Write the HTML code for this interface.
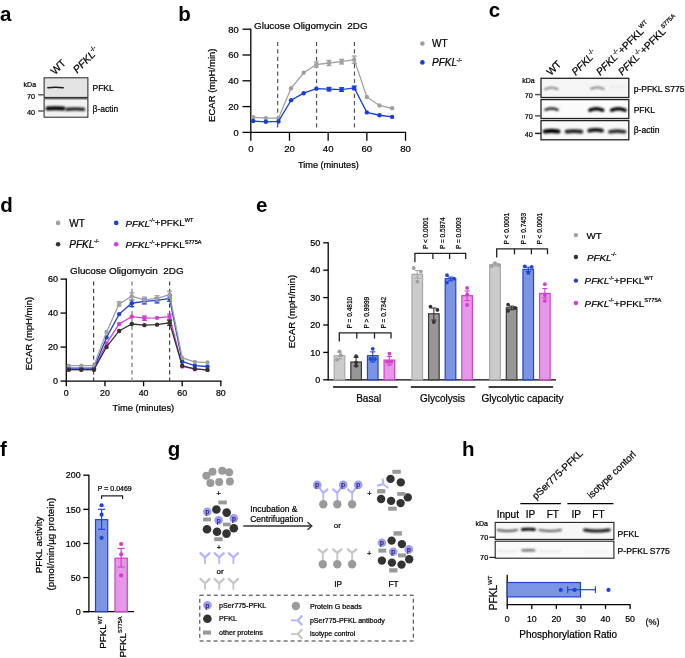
<!DOCTYPE html>
<html><head><meta charset="utf-8"><style>
html,body{margin:0;padding:0;background:#fff;}
svg{display:block;font-family:"Liberation Sans", sans-serif;will-change:transform;}
text{stroke:#000;stroke-width:0.22px;}
text[font-weight="bold"]{stroke:none;}
</style></head><body>
<svg width="685" height="658" viewBox="0 0 685 658">
<rect width="685" height="658" fill="#fff"/>
<text x="0" y="20.7" font-size="20.5" font-weight="bold">a</text>
<text x="178.3" y="21" font-size="20.5" font-weight="bold">b</text>
<text x="488.8" y="17.1" font-size="20.5" font-weight="bold">c</text>
<text x="0.3" y="212.1" font-size="20.5" font-weight="bold">d</text>
<text x="256" y="212.4" font-size="20.5" font-weight="bold">e</text>
<text x="0" y="456.3" font-size="20.5" font-weight="bold">f</text>
<text x="167.8" y="456" font-size="20.5" font-weight="bold">g</text>
<text x="462" y="456.1" font-size="20.5" font-weight="bold">h</text>
<text x="0" y="0" font-size="10.5" transform="translate(55.0,75.3) rotate(-45)">WT</text>
<text x="0" y="0" font-size="10.5" transform="translate(77.2,73.8) rotate(-45)"><tspan font-style="italic">PFKL</tspan><tspan font-size="6.3" dx="-0.63" dy="-4.7">-/-</tspan></text>
<defs><filter id="bl" x="-20%" y="-50%" width="140%" height="200%"><feGaussianBlur stdDeviation="0.7"/></filter><filter id="bl2" filterUnits="userSpaceOnUse" x="0" y="0" width="685" height="658"><feGaussianBlur stdDeviation="0.5"/></filter><filter id="bl3" filterUnits="userSpaceOnUse" x="0" y="0" width="685" height="658"><feGaussianBlur stdDeviation="0.85"/></filter></defs>
<rect x="44.10" y="77.80" width="43.80" height="19.60" fill="#e4e4e4" stroke="#222" stroke-width="1"/>
<rect x="44.10" y="98.80" width="43.80" height="18.40" fill="#f2f2f2" stroke="#222" stroke-width="1"/>
<path d="M47.8,87.7 Q55.5,87.04 63.2,87.7" fill="none" stroke="#1a1a1a" stroke-width="1.5" stroke-linecap="round" filter="url(#bl2)"/>
<path d="M47.6,108.6 Q55.5,107.94 63.4,108.6" fill="none" stroke="#000" stroke-width="4.0" stroke-linecap="round" filter="url(#bl3)"/>
<path d="M66.8,109.3 Q75.19999999999999,108.64 83.6,109.3" fill="none" stroke="#1a1a1a" stroke-width="3.2" stroke-linecap="round" filter="url(#bl3)"/>
<text x="23.6" y="87.3" font-size="7">kDa</text>
<text x="27.0" y="98.9" font-size="7.3">70</text>
<line x1="38.20" y1="94.80" x2="44.10" y2="94.80" stroke="#666" stroke-width="1.6"/>
<text x="27.0" y="114.6" font-size="7.3">40</text>
<line x1="38.20" y1="111.00" x2="44.10" y2="111.00" stroke="#666" stroke-width="1.6"/>
<text x="92.5" y="91.0" font-size="8.5">PFKL</text>
<text x="92.5" y="111.9" font-size="8.5">β-actin</text>
<line x1="250.80" y1="28.70" x2="250.80" y2="132.90" stroke="#000" stroke-width="1.3"/>
<line x1="250.20" y1="132.40" x2="406.12" y2="132.40" stroke="#000" stroke-width="1.3"/>
<line x1="242.50" y1="132.40" x2="250.80" y2="132.40" stroke="#000" stroke-width="1.3"/>
<text x="238.8" y="135.70000000000002" font-size="9.4" text-anchor="end">0</text>
<line x1="242.50" y1="106.60" x2="250.80" y2="106.60" stroke="#000" stroke-width="1.3"/>
<text x="238.8" y="109.9" font-size="9.4" text-anchor="end">20</text>
<line x1="242.50" y1="80.80" x2="250.80" y2="80.80" stroke="#000" stroke-width="1.3"/>
<text x="238.8" y="84.10000000000001" font-size="9.4" text-anchor="end">40</text>
<line x1="242.50" y1="55.00" x2="250.80" y2="55.00" stroke="#000" stroke-width="1.3"/>
<text x="238.8" y="58.3" font-size="9.4" text-anchor="end">60</text>
<line x1="242.50" y1="29.20" x2="250.80" y2="29.20" stroke="#000" stroke-width="1.3"/>
<text x="238.8" y="32.5" font-size="9.4" text-anchor="end">80</text>
<line x1="250.80" y1="132.40" x2="250.80" y2="140.70" stroke="#000" stroke-width="1.3"/>
<text x="250.8" y="152" font-size="9.6" text-anchor="middle">0</text>
<line x1="289.48" y1="132.40" x2="289.48" y2="140.70" stroke="#000" stroke-width="1.3"/>
<text x="289.48" y="152" font-size="9.6" text-anchor="middle">20</text>
<line x1="328.16" y1="132.40" x2="328.16" y2="140.70" stroke="#000" stroke-width="1.3"/>
<text x="328.16" y="152" font-size="9.6" text-anchor="middle">40</text>
<line x1="366.84" y1="132.40" x2="366.84" y2="140.70" stroke="#000" stroke-width="1.3"/>
<text x="366.84000000000003" y="152" font-size="9.6" text-anchor="middle">60</text>
<line x1="405.52" y1="132.40" x2="405.52" y2="140.70" stroke="#000" stroke-width="1.3"/>
<text x="405.52" y="152" font-size="9.6" text-anchor="middle">80</text>
<text x="328.4" y="167.5" font-size="9.2" text-anchor="middle">Time (minutes)</text>
<text x="0" y="0" font-size="9.5" text-anchor="middle" transform="translate(214.6,85.2) rotate(-90)">ECAR (mpH/min)</text>
<line x1="277.68" y1="41.90" x2="277.68" y2="129.80" stroke="#555" stroke-width="1.2" stroke-dasharray="4.2,3.2"/>
<line x1="316.56" y1="41.90" x2="316.56" y2="129.80" stroke="#555" stroke-width="1.2" stroke-dasharray="4.2,3.2"/>
<line x1="354.46" y1="41.90" x2="354.46" y2="129.80" stroke="#555" stroke-width="1.2" stroke-dasharray="4.2,3.2"/>
<text x="254" y="28.8" font-size="9.9" xml:space="preserve">Glucose Oligomycin  2DG</text>
<polyline points="253.20,117.31 265.83,118.21 278.46,118.21 291.09,88.28 303.71,72.80 316.34,64.55 328.97,63.00 341.60,61.71 354.23,59.64 366.86,96.93 379.49,105.44 392.12,108.28" fill="none" stroke="#a0a0a0" stroke-width="1.3"/>
<circle cx="253.20" cy="117.31" r="2.2" fill="#a0a0a0"/>
<circle cx="265.83" cy="118.21" r="2.2" fill="#a0a0a0"/>
<circle cx="278.46" cy="118.21" r="2.2" fill="#a0a0a0"/>
<circle cx="291.09" cy="88.28" r="2.2" fill="#a0a0a0"/>
<circle cx="303.71" cy="72.80" r="2.2" fill="#a0a0a0"/>
<line x1="316.34" y1="61.97" x2="316.34" y2="67.13" stroke="#a0a0a0" stroke-width="1.3"/>
<line x1="313.84" y1="61.97" x2="318.84" y2="61.97" stroke="#a0a0a0" stroke-width="1.3"/>
<line x1="313.84" y1="67.13" x2="318.84" y2="67.13" stroke="#a0a0a0" stroke-width="1.3"/>
<circle cx="316.34" cy="64.55" r="2.2" fill="#a0a0a0"/>
<line x1="328.97" y1="60.42" x2="328.97" y2="65.58" stroke="#a0a0a0" stroke-width="1.3"/>
<line x1="326.47" y1="60.42" x2="331.47" y2="60.42" stroke="#a0a0a0" stroke-width="1.3"/>
<line x1="326.47" y1="65.58" x2="331.47" y2="65.58" stroke="#a0a0a0" stroke-width="1.3"/>
<circle cx="328.97" cy="63.00" r="2.2" fill="#a0a0a0"/>
<line x1="341.60" y1="59.39" x2="341.60" y2="64.03" stroke="#a0a0a0" stroke-width="1.3"/>
<line x1="339.10" y1="59.39" x2="344.10" y2="59.39" stroke="#a0a0a0" stroke-width="1.3"/>
<line x1="339.10" y1="64.03" x2="344.10" y2="64.03" stroke="#a0a0a0" stroke-width="1.3"/>
<circle cx="341.60" cy="61.71" r="2.2" fill="#a0a0a0"/>
<line x1="354.23" y1="56.03" x2="354.23" y2="63.26" stroke="#a0a0a0" stroke-width="1.3"/>
<line x1="351.73" y1="56.03" x2="356.73" y2="56.03" stroke="#a0a0a0" stroke-width="1.3"/>
<line x1="351.73" y1="63.26" x2="356.73" y2="63.26" stroke="#a0a0a0" stroke-width="1.3"/>
<circle cx="354.23" cy="59.64" r="2.2" fill="#a0a0a0"/>
<circle cx="366.86" cy="96.93" r="2.2" fill="#a0a0a0"/>
<circle cx="379.49" cy="105.44" r="2.2" fill="#a0a0a0"/>
<circle cx="392.12" cy="108.28" r="2.2" fill="#a0a0a0"/>
<polyline points="253.20,121.05 265.83,121.82 278.46,121.44 291.09,100.15 303.71,93.18 316.34,88.67 328.97,89.19 341.60,89.57 354.23,87.90 366.86,112.41 379.49,115.24 392.12,116.92" fill="none" stroke="#1a3fd6" stroke-width="1.3"/>
<circle cx="253.20" cy="121.05" r="2.2" fill="#1a3fd6"/>
<circle cx="265.83" cy="121.82" r="2.2" fill="#1a3fd6"/>
<circle cx="278.46" cy="121.44" r="2.2" fill="#1a3fd6"/>
<circle cx="291.09" cy="100.15" r="2.2" fill="#1a3fd6"/>
<circle cx="303.71" cy="93.18" r="2.2" fill="#1a3fd6"/>
<circle cx="316.34" cy="88.67" r="2.2" fill="#1a3fd6"/>
<line x1="328.97" y1="87.51" x2="328.97" y2="90.86" stroke="#1a3fd6" stroke-width="1.3"/>
<line x1="326.47" y1="87.51" x2="331.47" y2="87.51" stroke="#1a3fd6" stroke-width="1.3"/>
<line x1="326.47" y1="90.86" x2="331.47" y2="90.86" stroke="#1a3fd6" stroke-width="1.3"/>
<circle cx="328.97" cy="89.19" r="2.2" fill="#1a3fd6"/>
<line x1="341.60" y1="87.77" x2="341.60" y2="91.38" stroke="#1a3fd6" stroke-width="1.3"/>
<line x1="339.10" y1="87.77" x2="344.10" y2="87.77" stroke="#1a3fd6" stroke-width="1.3"/>
<line x1="339.10" y1="91.38" x2="344.10" y2="91.38" stroke="#1a3fd6" stroke-width="1.3"/>
<circle cx="341.60" cy="89.57" r="2.2" fill="#1a3fd6"/>
<line x1="354.23" y1="86.09" x2="354.23" y2="89.70" stroke="#1a3fd6" stroke-width="1.3"/>
<line x1="351.73" y1="86.09" x2="356.73" y2="86.09" stroke="#1a3fd6" stroke-width="1.3"/>
<line x1="351.73" y1="89.70" x2="356.73" y2="89.70" stroke="#1a3fd6" stroke-width="1.3"/>
<circle cx="354.23" cy="87.90" r="2.2" fill="#1a3fd6"/>
<circle cx="366.86" cy="112.41" r="2.2" fill="#1a3fd6"/>
<circle cx="379.49" cy="115.24" r="2.2" fill="#1a3fd6"/>
<circle cx="392.12" cy="116.92" r="2.2" fill="#1a3fd6"/>
<circle cx="422.40" cy="43.60" r="2.3" fill="#a0a0a0"/>
<text x="432" y="47.2" font-size="10">WT</text>
<circle cx="422.40" cy="62.40" r="2.3" fill="#1a3fd6"/>
<text x="432" y="66" font-size="10"><tspan font-style="italic">PFKL</tspan><tspan font-size="6.0" dx="-0.60" dy="-4.5">-/-</tspan></text>
<text x="0" y="0" font-size="10.2" transform="translate(550.8,76.0) rotate(-45)">WT</text>
<text x="0" y="0" font-size="10.2" transform="translate(575.8,76.0) rotate(-45)"><tspan font-style="italic">PFKL</tspan><tspan font-size="6.1" dx="-0.61" dy="-4.6">-/-</tspan></text>
<text x="0" y="0" font-size="10.2" transform="translate(600.3,76.0) rotate(-45)"><tspan font-style="italic">PFKL</tspan><tspan font-size="6.1" dx="-0.61" dy="-4.6">-/-</tspan><tspan dy="4.59">+PFKL</tspan><tspan font-size="5.92" dy="-4.59">WT</tspan></text>
<text x="0" y="0" font-size="10.2" transform="translate(622.3,76.0) rotate(-45)"><tspan font-style="italic">PFKL</tspan><tspan font-size="6.1" dx="-0.61" dy="-4.6">-/-</tspan><tspan dy="4.59">+PFKL</tspan><tspan font-size="5.92" dy="-4.59">S775A</tspan></text>
<rect x="541.00" y="78.30" width="87.80" height="19.20" fill="#f5f5f5" stroke="#222" stroke-width="1.3"/>
<rect x="541.00" y="99.60" width="87.80" height="18.90" fill="#fbfbfb" stroke="#222" stroke-width="1.3"/>
<rect x="541.00" y="120.60" width="87.80" height="19.20" fill="#f8f8f8" stroke="#222" stroke-width="1.3"/>
<path d="M545.2,89.1 Q551.4000000000001,86.24 557.6,89.1" fill="none" stroke="#707070" stroke-width="1.8" stroke-linecap="round" filter="url(#bl3)"/>
<path d="M591.0,88.89999999999999 Q597.3,86.03999999999999 603.6,88.89999999999999" fill="none" stroke="#707070" stroke-width="1.8" stroke-linecap="round" filter="url(#bl3)"/>
<path d="M611.5,87.0 Q618.0,85.9 624.5,87.0" fill="none" stroke="#e8e8e8" stroke-width="1.8" stroke-linecap="round" filter="url(#bl3)"/>
<path d="M545.4,109.8 Q551.5,107.16 557.6,109.8" fill="none" stroke="#222" stroke-width="2.4" stroke-linecap="round" filter="url(#bl3)"/>
<path d="M590.0,110.2 Q596.3,107.34 602.6,110.2" fill="none" stroke="#000" stroke-width="3.6" stroke-linecap="round" filter="url(#bl3)"/>
<path d="M611.7,110.2 Q618.35,107.34 625.0,110.2" fill="none" stroke="#000" stroke-width="3.6" stroke-linecap="round" filter="url(#bl3)"/>
<path d="M544.8,131.5 Q551.5999999999999,130.4 558.4,131.5" fill="none" stroke="#000" stroke-width="4.2" stroke-linecap="round" filter="url(#bl3)"/>
<path d="M566.6,131.7 Q574.0,130.6 581.4,131.7" fill="none" stroke="#1a1a1a" stroke-width="3.8" stroke-linecap="round" filter="url(#bl3)"/>
<path d="M589.3,130.6 Q595.65,129.28 602.0,130.6" fill="none" stroke="#111" stroke-width="3.8" stroke-linecap="round" filter="url(#bl3)"/>
<path d="M609.9,131.7 Q617.25,130.6 624.6,131.7" fill="none" stroke="#2a2a2a" stroke-width="3.6" stroke-linecap="round" filter="url(#bl3)"/>
<text x="522.3" y="82.9" font-size="7">kDa</text>
<text x="524.8" y="98.3" font-size="7.3">70</text>
<line x1="535.00" y1="94.60" x2="541.20" y2="94.60" stroke="#555" stroke-width="1.5"/>
<text x="524.8" y="119.4" font-size="7.3">70</text>
<line x1="535.00" y1="115.90" x2="541.20" y2="115.90" stroke="#555" stroke-width="1.5"/>
<text x="524.8" y="137.3" font-size="7.3">40</text>
<line x1="535.00" y1="133.40" x2="541.20" y2="133.40" stroke="#222" stroke-width="1.5"/>
<text x="633.7" y="91.6" font-size="8.5">p-PFKL S775</text>
<text x="633.7" y="112.9" font-size="8.5">PFKL</text>
<text x="633.7" y="133.3" font-size="8.5">β-actin</text>
<line x1="66.30" y1="278.60" x2="66.30" y2="381.60" stroke="#000" stroke-width="1.3"/>
<line x1="65.70" y1="381.10" x2="221.46" y2="381.10" stroke="#000" stroke-width="1.3"/>
<line x1="60.50" y1="381.10" x2="66.30" y2="381.10" stroke="#000" stroke-width="1.3"/>
<text x="58.0" y="384.3" font-size="9" text-anchor="end">0</text>
<line x1="60.50" y1="347.10" x2="66.30" y2="347.10" stroke="#000" stroke-width="1.3"/>
<text x="58.0" y="350.3" font-size="9" text-anchor="end">20</text>
<line x1="60.50" y1="313.10" x2="66.30" y2="313.10" stroke="#000" stroke-width="1.3"/>
<text x="58.0" y="316.3" font-size="9" text-anchor="end">40</text>
<line x1="60.50" y1="279.10" x2="66.30" y2="279.10" stroke="#000" stroke-width="1.3"/>
<text x="58.0" y="282.3" font-size="9" text-anchor="end">60</text>
<line x1="66.30" y1="381.10" x2="66.30" y2="386.30" stroke="#000" stroke-width="1.3"/>
<text x="66.3" y="396.3" font-size="8.8" text-anchor="middle">0</text>
<line x1="104.94" y1="381.10" x2="104.94" y2="386.30" stroke="#000" stroke-width="1.3"/>
<text x="104.94" y="396.3" font-size="8.8" text-anchor="middle">20</text>
<line x1="143.58" y1="381.10" x2="143.58" y2="386.30" stroke="#000" stroke-width="1.3"/>
<text x="143.57999999999998" y="396.3" font-size="8.8" text-anchor="middle">40</text>
<line x1="182.22" y1="381.10" x2="182.22" y2="386.30" stroke="#000" stroke-width="1.3"/>
<text x="182.22" y="396.3" font-size="8.8" text-anchor="middle">60</text>
<line x1="220.86" y1="381.10" x2="220.86" y2="386.30" stroke="#000" stroke-width="1.3"/>
<text x="220.86" y="396.3" font-size="8.8" text-anchor="middle">80</text>
<text x="143.4" y="411" font-size="9.3" text-anchor="middle">Time (minutes)</text>
<text x="0" y="0" font-size="9.5" text-anchor="middle" transform="translate(32.0,333.6) rotate(-90)">ECAR (mpH/min)</text>
<line x1="93.60" y1="281.40" x2="93.60" y2="381.10" stroke="#444" stroke-width="1.2" stroke-dasharray="4.2,3.2"/>
<line x1="132.00" y1="281.40" x2="132.00" y2="381.10" stroke="#999" stroke-width="1.6" stroke-dasharray="4.2,3.2"/>
<line x1="169.60" y1="281.40" x2="169.60" y2="381.10" stroke="#444" stroke-width="1.2" stroke-dasharray="4.2,3.2"/>
<text x="70" y="274.3" font-size="9.9" xml:space="preserve">Glucose Oligomycin  2DG</text>
<polyline points="68.70,369.54 81.31,369.54 93.93,369.54 106.54,343.36 119.16,323.98 131.78,316.67 144.39,318.20 157.01,317.86 169.62,316.67 182.24,366.48 194.86,369.20 207.47,369.88" fill="none" stroke="#d23fd6" stroke-width="1.3"/>
<circle cx="68.70" cy="369.54" r="2.2" fill="#d23fd6"/>
<circle cx="81.31" cy="369.54" r="2.2" fill="#d23fd6"/>
<circle cx="93.93" cy="369.54" r="2.2" fill="#d23fd6"/>
<circle cx="106.54" cy="343.36" r="2.2" fill="#d23fd6"/>
<circle cx="119.16" cy="323.98" r="2.2" fill="#d23fd6"/>
<circle cx="131.78" cy="316.67" r="2.2" fill="#d23fd6"/>
<line x1="144.39" y1="315.99" x2="144.39" y2="320.41" stroke="#d23fd6" stroke-width="1.3"/>
<line x1="141.89" y1="315.99" x2="146.89" y2="315.99" stroke="#d23fd6" stroke-width="1.3"/>
<line x1="141.89" y1="320.41" x2="146.89" y2="320.41" stroke="#d23fd6" stroke-width="1.3"/>
<circle cx="144.39" cy="318.20" r="2.2" fill="#d23fd6"/>
<circle cx="157.01" cy="317.86" r="2.2" fill="#d23fd6"/>
<line x1="169.62" y1="314.12" x2="169.62" y2="319.22" stroke="#d23fd6" stroke-width="1.3"/>
<line x1="167.12" y1="314.12" x2="172.12" y2="314.12" stroke="#d23fd6" stroke-width="1.3"/>
<line x1="167.12" y1="319.22" x2="172.12" y2="319.22" stroke="#d23fd6" stroke-width="1.3"/>
<circle cx="169.62" cy="316.67" r="2.2" fill="#d23fd6"/>
<circle cx="182.24" cy="366.48" r="2.2" fill="#d23fd6"/>
<circle cx="194.86" cy="369.20" r="2.2" fill="#d23fd6"/>
<circle cx="207.47" cy="369.88" r="2.2" fill="#d23fd6"/>
<polyline points="68.70,368.18 81.31,368.18 93.93,368.18 106.54,337.41 119.16,314.12 131.78,303.24 144.39,301.37 157.01,300.35 169.62,298.48 182.24,361.55 194.86,365.63 207.47,366.48" fill="none" stroke="#1a3fd6" stroke-width="1.3"/>
<circle cx="68.70" cy="368.18" r="2.2" fill="#1a3fd6"/>
<circle cx="81.31" cy="368.18" r="2.2" fill="#1a3fd6"/>
<circle cx="93.93" cy="368.18" r="2.2" fill="#1a3fd6"/>
<circle cx="106.54" cy="337.41" r="2.2" fill="#1a3fd6"/>
<circle cx="119.16" cy="314.12" r="2.2" fill="#1a3fd6"/>
<line x1="131.78" y1="299.84" x2="131.78" y2="306.64" stroke="#1a3fd6" stroke-width="1.3"/>
<line x1="129.28" y1="299.84" x2="134.28" y2="299.84" stroke="#1a3fd6" stroke-width="1.3"/>
<line x1="129.28" y1="306.64" x2="134.28" y2="306.64" stroke="#1a3fd6" stroke-width="1.3"/>
<circle cx="131.78" cy="303.24" r="2.2" fill="#1a3fd6"/>
<line x1="144.39" y1="298.82" x2="144.39" y2="303.92" stroke="#1a3fd6" stroke-width="1.3"/>
<line x1="141.89" y1="298.82" x2="146.89" y2="298.82" stroke="#1a3fd6" stroke-width="1.3"/>
<line x1="141.89" y1="303.92" x2="146.89" y2="303.92" stroke="#1a3fd6" stroke-width="1.3"/>
<circle cx="144.39" cy="301.37" r="2.2" fill="#1a3fd6"/>
<line x1="157.01" y1="297.80" x2="157.01" y2="302.90" stroke="#1a3fd6" stroke-width="1.3"/>
<line x1="154.51" y1="297.80" x2="159.51" y2="297.80" stroke="#1a3fd6" stroke-width="1.3"/>
<line x1="154.51" y1="302.90" x2="159.51" y2="302.90" stroke="#1a3fd6" stroke-width="1.3"/>
<circle cx="157.01" cy="300.35" r="2.2" fill="#1a3fd6"/>
<line x1="169.62" y1="295.76" x2="169.62" y2="301.20" stroke="#1a3fd6" stroke-width="1.3"/>
<line x1="167.12" y1="295.76" x2="172.12" y2="295.76" stroke="#1a3fd6" stroke-width="1.3"/>
<line x1="167.12" y1="301.20" x2="172.12" y2="301.20" stroke="#1a3fd6" stroke-width="1.3"/>
<circle cx="169.62" cy="298.48" r="2.2" fill="#1a3fd6"/>
<circle cx="182.24" cy="361.55" r="2.2" fill="#1a3fd6"/>
<circle cx="194.86" cy="365.63" r="2.2" fill="#1a3fd6"/>
<circle cx="207.47" cy="366.48" r="2.2" fill="#1a3fd6"/>
<polyline points="68.70,365.63 81.31,365.63 93.93,365.63 106.54,331.97 119.16,303.92 131.78,296.27 144.39,299.84 157.01,298.48 169.62,294.57 182.24,357.98 194.86,361.89 207.47,362.57" fill="none" stroke="#a0a0a0" stroke-width="1.3"/>
<circle cx="68.70" cy="365.63" r="2.2" fill="#a0a0a0"/>
<circle cx="81.31" cy="365.63" r="2.2" fill="#a0a0a0"/>
<circle cx="93.93" cy="365.63" r="2.2" fill="#a0a0a0"/>
<circle cx="106.54" cy="331.97" r="2.2" fill="#a0a0a0"/>
<line x1="119.16" y1="301.71" x2="119.16" y2="306.13" stroke="#a0a0a0" stroke-width="1.3"/>
<line x1="116.66" y1="301.71" x2="121.66" y2="301.71" stroke="#a0a0a0" stroke-width="1.3"/>
<line x1="116.66" y1="306.13" x2="121.66" y2="306.13" stroke="#a0a0a0" stroke-width="1.3"/>
<circle cx="119.16" cy="303.92" r="2.2" fill="#a0a0a0"/>
<line x1="131.78" y1="292.87" x2="131.78" y2="299.67" stroke="#a0a0a0" stroke-width="1.3"/>
<line x1="129.28" y1="292.87" x2="134.28" y2="292.87" stroke="#a0a0a0" stroke-width="1.3"/>
<line x1="129.28" y1="299.67" x2="134.28" y2="299.67" stroke="#a0a0a0" stroke-width="1.3"/>
<circle cx="131.78" cy="296.27" r="2.2" fill="#a0a0a0"/>
<line x1="144.39" y1="297.12" x2="144.39" y2="302.56" stroke="#a0a0a0" stroke-width="1.3"/>
<line x1="141.89" y1="297.12" x2="146.89" y2="297.12" stroke="#a0a0a0" stroke-width="1.3"/>
<line x1="141.89" y1="302.56" x2="146.89" y2="302.56" stroke="#a0a0a0" stroke-width="1.3"/>
<circle cx="144.39" cy="299.84" r="2.2" fill="#a0a0a0"/>
<line x1="157.01" y1="295.76" x2="157.01" y2="301.20" stroke="#a0a0a0" stroke-width="1.3"/>
<line x1="154.51" y1="295.76" x2="159.51" y2="295.76" stroke="#a0a0a0" stroke-width="1.3"/>
<line x1="154.51" y1="301.20" x2="159.51" y2="301.20" stroke="#a0a0a0" stroke-width="1.3"/>
<circle cx="157.01" cy="298.48" r="2.2" fill="#a0a0a0"/>
<line x1="169.62" y1="291.17" x2="169.62" y2="297.97" stroke="#a0a0a0" stroke-width="1.3"/>
<line x1="167.12" y1="291.17" x2="172.12" y2="291.17" stroke="#a0a0a0" stroke-width="1.3"/>
<line x1="167.12" y1="297.97" x2="172.12" y2="297.97" stroke="#a0a0a0" stroke-width="1.3"/>
<circle cx="169.62" cy="294.57" r="2.2" fill="#a0a0a0"/>
<circle cx="182.24" cy="357.98" r="2.2" fill="#a0a0a0"/>
<circle cx="194.86" cy="361.89" r="2.2" fill="#a0a0a0"/>
<circle cx="207.47" cy="362.57" r="2.2" fill="#a0a0a0"/>
<polyline points="68.70,369.71 81.31,369.71 93.93,369.71 106.54,346.93 119.16,330.95 131.78,323.98 144.39,325.17 157.01,324.66 169.62,322.79 182.24,365.80 194.86,368.86 207.47,369.88" fill="none" stroke="#333333" stroke-width="1.3"/>
<circle cx="68.70" cy="369.71" r="2.2" fill="#333333"/>
<circle cx="81.31" cy="369.71" r="2.2" fill="#333333"/>
<circle cx="93.93" cy="369.71" r="2.2" fill="#333333"/>
<circle cx="106.54" cy="346.93" r="2.2" fill="#333333"/>
<circle cx="119.16" cy="330.95" r="2.2" fill="#333333"/>
<circle cx="131.78" cy="323.98" r="2.2" fill="#333333"/>
<circle cx="144.39" cy="325.17" r="2.2" fill="#333333"/>
<circle cx="157.01" cy="324.66" r="2.2" fill="#333333"/>
<line x1="169.62" y1="320.24" x2="169.62" y2="325.34" stroke="#333333" stroke-width="1.3"/>
<line x1="167.12" y1="320.24" x2="172.12" y2="320.24" stroke="#333333" stroke-width="1.3"/>
<line x1="167.12" y1="325.34" x2="172.12" y2="325.34" stroke="#333333" stroke-width="1.3"/>
<circle cx="169.62" cy="322.79" r="2.2" fill="#333333"/>
<circle cx="182.24" cy="365.80" r="2.2" fill="#333333"/>
<circle cx="194.86" cy="368.86" r="2.2" fill="#333333"/>
<circle cx="207.47" cy="369.88" r="2.2" fill="#333333"/>
<circle cx="58.10" cy="222.90" r="2.3" fill="#a0a0a0"/>
<text x="69.3" y="226.5" font-size="10">WT</text>
<circle cx="58.10" cy="244.30" r="2.3" fill="#333333"/>
<text x="69.3" y="247.9" font-size="10"><tspan font-style="italic">PFKL</tspan><tspan font-size="6.0" dx="-0.60" dy="-4.5">-/-</tspan></text>
<circle cx="116.20" cy="222.90" r="2.3" fill="#1a3fd6"/>
<text x="125.6" y="226.5" font-size="9.7"><tspan font-style="italic">PFKL</tspan><tspan font-size="5.8" dx="-0.58" dy="-4.4">-/-</tspan><tspan dy="4.37">+PFKL</tspan><tspan font-size="5.63" dy="-4.37">WT</tspan></text>
<circle cx="116.20" cy="244.30" r="2.3" fill="#d23fd6"/>
<text x="125.6" y="247.9" font-size="9.7"><tspan font-style="italic">PFKL</tspan><tspan font-size="5.8" dx="-0.58" dy="-4.4">-/-</tspan><tspan dy="4.37">+PFKL</tspan><tspan font-size="5.63" dy="-4.37">S775A</tspan></text>
<line x1="328.20" y1="242.30" x2="328.20" y2="380.30" stroke="#000" stroke-width="1.3"/>
<line x1="327.60" y1="379.80" x2="556.00" y2="379.80" stroke="#000" stroke-width="1.3"/>
<line x1="323.20" y1="379.80" x2="328.20" y2="379.80" stroke="#000" stroke-width="1.3"/>
<text x="320.2" y="383.0" font-size="9" text-anchor="end">0</text>
<line x1="323.20" y1="352.40" x2="328.20" y2="352.40" stroke="#000" stroke-width="1.3"/>
<text x="320.2" y="355.6" font-size="9" text-anchor="end">10</text>
<line x1="323.20" y1="325.00" x2="328.20" y2="325.00" stroke="#000" stroke-width="1.3"/>
<text x="320.2" y="328.2" font-size="9" text-anchor="end">20</text>
<line x1="323.20" y1="297.60" x2="328.20" y2="297.60" stroke="#000" stroke-width="1.3"/>
<text x="320.2" y="300.8" font-size="9" text-anchor="end">30</text>
<line x1="323.20" y1="270.20" x2="328.20" y2="270.20" stroke="#000" stroke-width="1.3"/>
<text x="320.2" y="273.4" font-size="9" text-anchor="end">40</text>
<line x1="323.20" y1="242.80" x2="328.20" y2="242.80" stroke="#000" stroke-width="1.3"/>
<text x="320.2" y="246.0" font-size="9" text-anchor="end">50</text>
<text x="0" y="0" font-size="9.5" text-anchor="middle" transform="translate(295.0,311.6) rotate(-90)">ECAR (mpH/min)</text>
<rect x="334.20" y="355.69" width="10.60" height="24.11" fill="#cbcbcb" stroke="#a8a8a8" stroke-width="1.2"/>
<line x1="339.50" y1="352.13" x2="339.50" y2="358.98" stroke="#a8a8a8" stroke-width="1.1"/>
<line x1="336.90" y1="352.13" x2="342.10" y2="352.13" stroke="#a8a8a8" stroke-width="1.1"/>
<line x1="336.90" y1="358.98" x2="342.10" y2="358.98" stroke="#a8a8a8" stroke-width="1.1"/>
<circle cx="339.50" cy="351.30" r="1.9" fill="#a0a0a0"/>
<circle cx="341.00" cy="355.14" r="1.9" fill="#a0a0a0"/>
<circle cx="337.00" cy="359.80" r="1.9" fill="#a0a0a0"/>
<rect x="350.82" y="361.99" width="10.60" height="17.81" fill="#979797" stroke="#3a3a3a" stroke-width="1.2"/>
<line x1="356.12" y1="357.33" x2="356.12" y2="365.83" stroke="#3a3a3a" stroke-width="1.1"/>
<line x1="353.52" y1="357.33" x2="358.72" y2="357.33" stroke="#3a3a3a" stroke-width="1.1"/>
<line x1="353.52" y1="365.83" x2="358.72" y2="365.83" stroke="#3a3a3a" stroke-width="1.1"/>
<circle cx="356.12" cy="356.24" r="1.9" fill="#333333"/>
<circle cx="356.12" cy="362.54" r="1.9" fill="#333333"/>
<circle cx="356.12" cy="365.83" r="1.9" fill="#333333"/>
<rect x="367.44" y="355.69" width="10.60" height="24.11" fill="#7b95e4" stroke="#1f44d8" stroke-width="1.2"/>
<line x1="372.74" y1="351.85" x2="372.74" y2="361.99" stroke="#1f44d8" stroke-width="1.1"/>
<line x1="370.14" y1="351.85" x2="375.34" y2="351.85" stroke="#1f44d8" stroke-width="1.1"/>
<line x1="370.14" y1="361.99" x2="375.34" y2="361.99" stroke="#1f44d8" stroke-width="1.1"/>
<circle cx="372.74" cy="348.84" r="1.9" fill="#1f44d8"/>
<circle cx="370.44" cy="358.98" r="1.9" fill="#1f44d8"/>
<circle cx="375.04" cy="358.98" r="1.9" fill="#1f44d8"/>
<rect x="384.06" y="360.07" width="10.60" height="19.73" fill="#e698e6" stroke="#d040d0" stroke-width="1.2"/>
<line x1="389.36" y1="356.51" x2="389.36" y2="365.00" stroke="#d040d0" stroke-width="1.1"/>
<line x1="386.76" y1="356.51" x2="391.96" y2="356.51" stroke="#d040d0" stroke-width="1.1"/>
<line x1="386.76" y1="365.00" x2="391.96" y2="365.00" stroke="#d040d0" stroke-width="1.1"/>
<circle cx="389.36" cy="353.77" r="1.9" fill="#d040d0"/>
<circle cx="387.26" cy="361.72" r="1.9" fill="#d040d0"/>
<circle cx="391.46" cy="361.72" r="1.9" fill="#d040d0"/>
<rect x="411.95" y="274.31" width="10.60" height="105.49" fill="#cbcbcb" stroke="#a8a8a8" stroke-width="1.2"/>
<line x1="417.25" y1="270.47" x2="417.25" y2="278.42" stroke="#a8a8a8" stroke-width="1.1"/>
<line x1="414.65" y1="270.47" x2="419.85" y2="270.47" stroke="#a8a8a8" stroke-width="1.1"/>
<line x1="414.65" y1="278.42" x2="419.85" y2="278.42" stroke="#a8a8a8" stroke-width="1.1"/>
<circle cx="413.75" cy="268.01" r="1.9" fill="#a0a0a0"/>
<circle cx="420.85" cy="271.57" r="1.9" fill="#a0a0a0"/>
<circle cx="417.25" cy="281.71" r="1.9" fill="#a0a0a0"/>
<rect x="428.57" y="313.77" width="10.60" height="66.03" fill="#979797" stroke="#3a3a3a" stroke-width="1.2"/>
<line x1="433.87" y1="308.01" x2="433.87" y2="320.07" stroke="#3a3a3a" stroke-width="1.1"/>
<line x1="431.27" y1="308.01" x2="436.47" y2="308.01" stroke="#3a3a3a" stroke-width="1.1"/>
<line x1="431.27" y1="320.07" x2="436.47" y2="320.07" stroke="#3a3a3a" stroke-width="1.1"/>
<circle cx="430.47" cy="306.64" r="1.9" fill="#333333"/>
<circle cx="437.37" cy="309.93" r="1.9" fill="#333333"/>
<circle cx="433.87" cy="321.99" r="1.9" fill="#333333"/>
<rect x="445.19" y="278.69" width="10.60" height="101.11" fill="#7b95e4" stroke="#1f44d8" stroke-width="1.2"/>
<line x1="450.49" y1="277.05" x2="450.49" y2="280.89" stroke="#1f44d8" stroke-width="1.1"/>
<line x1="447.89" y1="277.05" x2="453.09" y2="277.05" stroke="#1f44d8" stroke-width="1.1"/>
<line x1="447.89" y1="280.89" x2="453.09" y2="280.89" stroke="#1f44d8" stroke-width="1.1"/>
<circle cx="446.99" cy="275.13" r="1.9" fill="#1f44d8"/>
<circle cx="453.99" cy="278.69" r="1.9" fill="#1f44d8"/>
<circle cx="446.99" cy="282.53" r="1.9" fill="#1f44d8"/>
<rect x="461.81" y="295.68" width="10.60" height="84.12" fill="#e698e6" stroke="#d040d0" stroke-width="1.2"/>
<line x1="467.11" y1="291.02" x2="467.11" y2="300.61" stroke="#d040d0" stroke-width="1.1"/>
<line x1="464.51" y1="291.02" x2="469.71" y2="291.02" stroke="#d040d0" stroke-width="1.1"/>
<line x1="464.51" y1="300.61" x2="469.71" y2="300.61" stroke="#d040d0" stroke-width="1.1"/>
<circle cx="467.11" cy="288.01" r="1.9" fill="#d040d0"/>
<circle cx="467.11" cy="294.31" r="1.9" fill="#d040d0"/>
<circle cx="467.11" cy="305.00" r="1.9" fill="#d040d0"/>
<rect x="489.70" y="264.72" width="10.60" height="115.08" fill="#cbcbcb" stroke="#a8a8a8" stroke-width="1.2"/>
<line x1="495.00" y1="263.62" x2="495.00" y2="266.09" stroke="#a8a8a8" stroke-width="1.1"/>
<line x1="492.40" y1="263.62" x2="497.60" y2="263.62" stroke="#a8a8a8" stroke-width="1.1"/>
<line x1="492.40" y1="266.09" x2="497.60" y2="266.09" stroke="#a8a8a8" stroke-width="1.1"/>
<circle cx="491.50" cy="266.09" r="1.9" fill="#a0a0a0"/>
<circle cx="495.00" cy="263.08" r="1.9" fill="#a0a0a0"/>
<circle cx="498.80" cy="264.99" r="1.9" fill="#a0a0a0"/>
<rect x="506.32" y="307.74" width="10.60" height="72.06" fill="#979797" stroke="#3a3a3a" stroke-width="1.2"/>
<line x1="511.62" y1="306.09" x2="511.62" y2="309.66" stroke="#3a3a3a" stroke-width="1.1"/>
<line x1="509.02" y1="306.09" x2="514.22" y2="306.09" stroke="#3a3a3a" stroke-width="1.1"/>
<line x1="509.02" y1="309.66" x2="514.22" y2="309.66" stroke="#3a3a3a" stroke-width="1.1"/>
<circle cx="508.12" cy="304.72" r="1.9" fill="#333333"/>
<circle cx="515.12" cy="308.01" r="1.9" fill="#333333"/>
<circle cx="508.12" cy="310.75" r="1.9" fill="#333333"/>
<rect x="522.94" y="269.38" width="10.60" height="110.42" fill="#7b95e4" stroke="#1f44d8" stroke-width="1.2"/>
<line x1="528.24" y1="267.19" x2="528.24" y2="271.57" stroke="#1f44d8" stroke-width="1.1"/>
<line x1="525.64" y1="267.19" x2="530.84" y2="267.19" stroke="#1f44d8" stroke-width="1.1"/>
<line x1="525.64" y1="271.57" x2="530.84" y2="271.57" stroke="#1f44d8" stroke-width="1.1"/>
<circle cx="524.74" cy="266.36" r="1.9" fill="#1f44d8"/>
<circle cx="531.74" cy="266.91" r="1.9" fill="#1f44d8"/>
<circle cx="528.24" cy="272.94" r="1.9" fill="#1f44d8"/>
<rect x="539.56" y="293.49" width="10.60" height="86.31" fill="#e698e6" stroke="#d040d0" stroke-width="1.2"/>
<line x1="544.86" y1="288.56" x2="544.86" y2="297.87" stroke="#d040d0" stroke-width="1.1"/>
<line x1="542.26" y1="288.56" x2="547.46" y2="288.56" stroke="#d040d0" stroke-width="1.1"/>
<line x1="542.26" y1="297.87" x2="547.46" y2="297.87" stroke="#d040d0" stroke-width="1.1"/>
<circle cx="544.86" cy="284.17" r="1.9" fill="#d040d0"/>
<circle cx="544.86" cy="294.86" r="1.9" fill="#d040d0"/>
<circle cx="544.86" cy="300.89" r="1.9" fill="#d040d0"/>
<line x1="333.10" y1="387.00" x2="397.60" y2="387.00" stroke="#000" stroke-width="1.3"/>
<text x="368.7" y="402" font-size="10" text-anchor="middle">Basal</text>
<line x1="410.85" y1="387.00" x2="475.35" y2="387.00" stroke="#000" stroke-width="1.3"/>
<text x="442.4" y="402" font-size="10" text-anchor="middle">Glycolysis</text>
<line x1="488.60" y1="387.00" x2="553.10" y2="387.00" stroke="#000" stroke-width="1.3"/>
<text x="522.5" y="402" font-size="10" text-anchor="middle">Glycolytic capacity</text>
<polyline points="339.3,341.5 339.3,332.8 391,332.8 391,338.5" fill="none" stroke="#222" stroke-width="1.3"/>
<line x1="356.80" y1="332.80" x2="356.80" y2="338.50" stroke="#222" stroke-width="1.3"/>
<line x1="374.50" y1="332.80" x2="374.50" y2="338.50" stroke="#222" stroke-width="1.3"/>
<text x="0" y="0" font-size="6.55" transform="translate(351.7,328.5) rotate(-90)">P = 0.4810</text>
<text x="0" y="0" font-size="6.55" transform="translate(369.4,328.5) rotate(-90)">P &gt; 0.9999</text>
<text x="0" y="0" font-size="6.55" transform="translate(385.9,328.5) rotate(-90)">P = 0.7342</text>
<polyline points="414.9,262.2 414.9,253.4 465.7,253.4 465.7,259" fill="none" stroke="#222" stroke-width="1.3"/>
<line x1="432.90" y1="253.40" x2="432.90" y2="259.00" stroke="#222" stroke-width="1.3"/>
<line x1="449.60" y1="253.40" x2="449.60" y2="259.00" stroke="#222" stroke-width="1.3"/>
<text x="0" y="0" font-size="6.55" transform="translate(427.79999999999995,249.1) rotate(-90)">P &lt; 0.0001</text>
<text x="0" y="0" font-size="6.55" transform="translate(444.5,249.1) rotate(-90)">P = 0.5974</text>
<text x="0" y="0" font-size="6.55" transform="translate(460.59999999999997,249.1) rotate(-90)">P = 0.0003</text>
<polyline points="496.7,257.5 496.7,248.8 547.5,248.8 547.5,254.3" fill="none" stroke="#222" stroke-width="1.3"/>
<line x1="514.50" y1="248.80" x2="514.50" y2="254.30" stroke="#222" stroke-width="1.3"/>
<line x1="531.40" y1="248.80" x2="531.40" y2="254.30" stroke="#222" stroke-width="1.3"/>
<text x="0" y="0" font-size="6.55" transform="translate(509.4,244.5) rotate(-90)">P &lt; 0.0001</text>
<text x="0" y="0" font-size="6.55" transform="translate(526.3,244.5) rotate(-90)">P = 0.7453</text>
<text x="0" y="0" font-size="6.55" transform="translate(542.4,244.5) rotate(-90)">P &lt; 0.0001</text>
<circle cx="575.90" cy="235.10" r="2.2" fill="#a0a0a0"/>
<text x="586.5" y="238.6" font-size="9.8">WT</text>
<circle cx="575.90" cy="257.00" r="2.2" fill="#333333"/>
<text x="587" y="260.5" font-size="9.8"><tspan font-style="italic">PFKL</tspan><tspan font-size="5.9" dx="-0.59" dy="-4.4">-/-</tspan></text>
<circle cx="575.90" cy="280.60" r="2.2" fill="#1a3fd6"/>
<text x="584.6" y="284.1" font-size="9.8"><tspan font-style="italic">PFKL</tspan><tspan font-size="5.9" dx="-0.59" dy="-4.4">-/-</tspan><tspan dy="4.41">+PFKL</tspan><tspan font-size="5.68" dy="-4.41">WT</tspan></text>
<circle cx="575.90" cy="303.00" r="2.2" fill="#d23fd6"/>
<text x="584.6" y="306.5" font-size="9.8"><tspan font-style="italic">PFKL</tspan><tspan font-size="5.9" dx="-0.59" dy="-4.4">-/-</tspan><tspan dy="4.41">+PFKL</tspan><tspan font-size="5.68" dy="-4.41">S775A</tspan></text>
<line x1="88.90" y1="474.70" x2="88.90" y2="612.20" stroke="#000" stroke-width="1.3"/>
<line x1="83.40" y1="611.70" x2="134.00" y2="611.70" stroke="#000" stroke-width="1.3"/>
<line x1="83.30" y1="611.70" x2="88.90" y2="611.70" stroke="#000" stroke-width="1.3"/>
<text x="80.6" y="614.9000000000001" font-size="8.9" text-anchor="end">0</text>
<line x1="83.30" y1="577.58" x2="88.90" y2="577.58" stroke="#000" stroke-width="1.3"/>
<text x="80.6" y="580.7750000000001" font-size="8.9" text-anchor="end">50</text>
<line x1="83.30" y1="543.45" x2="88.90" y2="543.45" stroke="#000" stroke-width="1.3"/>
<text x="80.6" y="546.6500000000001" font-size="8.9" text-anchor="end">100</text>
<line x1="83.30" y1="509.33" x2="88.90" y2="509.33" stroke="#000" stroke-width="1.3"/>
<text x="80.6" y="512.5250000000001" font-size="8.9" text-anchor="end">150</text>
<line x1="83.30" y1="475.20" x2="88.90" y2="475.20" stroke="#000" stroke-width="1.3"/>
<text x="80.6" y="478.40000000000003" font-size="8.9" text-anchor="end">200</text>
<rect x="95.50" y="519.63" width="12.20" height="92.07" fill="#7b95e4" stroke="#1f44d8" stroke-width="1.2"/>
<line x1="101.60" y1="509.33" x2="101.60" y2="529.32" stroke="#1f44d8" stroke-width="1.2"/>
<line x1="98.00" y1="509.33" x2="105.20" y2="509.33" stroke="#1f44d8" stroke-width="1.2"/>
<line x1="98.00" y1="529.32" x2="105.20" y2="529.32" stroke="#1f44d8" stroke-width="1.2"/>
<circle cx="101.60" cy="505.23" r="2.1" fill="#1f44d8"/>
<circle cx="101.60" cy="514.65" r="2.1" fill="#1f44d8"/>
<circle cx="101.60" cy="537.79" r="2.1" fill="#1f44d8"/>
<rect x="115.00" y="558.19" width="12.30" height="53.51" fill="#e698e6" stroke="#d040d0" stroke-width="1.2"/>
<line x1="121.15" y1="548.50" x2="121.15" y2="567.00" stroke="#d040d0" stroke-width="1.2"/>
<line x1="117.55" y1="548.50" x2="124.75" y2="548.50" stroke="#d040d0" stroke-width="1.2"/>
<line x1="117.55" y1="567.00" x2="124.75" y2="567.00" stroke="#d040d0" stroke-width="1.2"/>
<circle cx="121.15" cy="544.00" r="2.1" fill="#d040d0"/>
<circle cx="121.15" cy="554.30" r="2.1" fill="#d040d0"/>
<circle cx="121.15" cy="575.39" r="2.1" fill="#d040d0"/>
<polyline points="101.6,498.9 101.6,495.9 122.6,495.9 122.6,498.9" fill="none" stroke="#222" stroke-width="1.2"/>
<text x="114.8" y="490.5" font-size="7" text-anchor="middle">P = 0.0469</text>
<text x="0" y="0" font-size="9.8" text-anchor="middle" transform="translate(42.4,544.9) rotate(-90)">PFKL activity</text>
<text x="0" y="0" font-size="9.8" text-anchor="middle" transform="translate(53.9,544.2) rotate(-90)">(pmol/min/µg protein)</text>
<text x="0" y="0" font-size="9.8" transform="translate(106.3,648.7) rotate(-90)">PFKL<tspan font-size="5.5" dy="-4.3">WT</tspan></text>
<text x="0" y="0" font-size="9.8" transform="translate(126.2,657.5) rotate(-90)">PFKL<tspan font-size="5.5" dy="-4.3">S775A</tspan></text>
<circle cx="206.40" cy="475.80" r="4.0" fill="#9a9a9a"/>
<circle cx="212.50" cy="471.80" r="4.0" fill="#9a9a9a"/>
<circle cx="222.20" cy="470.70" r="4.0" fill="#9a9a9a"/>
<circle cx="229.10" cy="472.20" r="4.0" fill="#9a9a9a"/>
<circle cx="210.40" cy="483.10" r="4.0" fill="#9a9a9a"/>
<circle cx="219.20" cy="481.90" r="4.0" fill="#9a9a9a"/>
<circle cx="229.90" cy="481.60" r="4.0" fill="#9a9a9a"/>
<text x="218.8" y="496" font-size="7.5" text-anchor="middle">+</text>
<rect x="218.30" y="500.50" width="8.50" height="3.90" fill="#999999" stroke="none" stroke-width="1"/>
<circle cx="216.40" cy="509.50" r="4.3" fill="#333333"/>
<circle cx="226.70" cy="512.60" r="4.3" fill="#333333"/>
<circle cx="207.00" cy="529.30" r="4.3" fill="#333333"/>
<circle cx="217.00" cy="531.70" r="4.3" fill="#333333"/>
<circle cx="226.50" cy="533.60" r="4.3" fill="#333333"/>
<circle cx="233.80" cy="528.30" r="4.3" fill="#333333"/>
<circle cx="207.30" cy="511.70" r="4.3" fill="#9c9cff"/>
<text x="207.3" y="514.0" font-size="6.8" text-anchor="middle" fill="#222244" style="stroke:#222244">p</text>
<circle cx="218.60" cy="520.20" r="4.3" fill="#9c9cff"/>
<text x="218.6" y="522.5" font-size="6.8" text-anchor="middle" fill="#222244" style="stroke:#222244">p</text>
<circle cx="233.80" cy="518.40" r="4.3" fill="#9c9cff"/>
<text x="233.8" y="520.6999999999999" font-size="6.8" text-anchor="middle" fill="#222244" style="stroke:#222244">p</text>
<rect x="203.10" y="517.50" width="7.90" height="3.90" fill="#999999" stroke="none" stroke-width="1"/>
<rect x="223.00" y="522.60" width="7.70" height="3.70" fill="#999999" stroke="none" stroke-width="1"/>
<rect x="214.20" y="537.20" width="8.50" height="4.00" fill="#999999" stroke="none" stroke-width="1"/>
<text x="219" y="549.5" font-size="7.5" text-anchor="middle">+</text>
<path d="M205.00,557.40 L199.80,552.60 M205.00,557.40 L210.20,552.60" fill="none" stroke="#b4b4ff" stroke-width="2.2"/>
<path d="M205.00,557.40 L205.00,563.90" fill="none" stroke="#b4b4ff" stroke-width="1.8"/>
<path d="M219.20,557.40 L214.00,552.60 M219.20,557.40 L224.40,552.60" fill="none" stroke="#b4b4ff" stroke-width="2.2"/>
<path d="M219.20,557.40 L219.20,563.90" fill="none" stroke="#b4b4ff" stroke-width="1.8"/>
<path d="M233.40,557.40 L228.20,552.60 M233.40,557.40 L238.60,552.60" fill="none" stroke="#b4b4ff" stroke-width="2.2"/>
<path d="M233.40,557.40 L233.40,563.90" fill="none" stroke="#b4b4ff" stroke-width="1.8"/>
<text x="220.1" y="573.6" font-size="8" text-anchor="middle">or</text>
<path d="M205.00,583.20 L199.80,578.40 M205.00,583.20 L210.20,578.40" fill="none" stroke="#c4c4c4" stroke-width="2.2"/>
<path d="M205.00,583.20 L205.00,589.60" fill="none" stroke="#c4c4c4" stroke-width="1.8"/>
<path d="M219.20,583.20 L214.00,578.40 M219.20,583.20 L224.40,578.40" fill="none" stroke="#c4c4c4" stroke-width="2.2"/>
<path d="M219.20,583.20 L219.20,589.60" fill="none" stroke="#c4c4c4" stroke-width="1.8"/>
<path d="M233.40,583.20 L228.20,578.40 M233.40,583.20 L238.60,578.40" fill="none" stroke="#c4c4c4" stroke-width="2.2"/>
<path d="M233.40,583.20 L233.40,589.60" fill="none" stroke="#c4c4c4" stroke-width="1.8"/>
<line x1="243.30" y1="526.00" x2="311.00" y2="526.00" stroke="#333" stroke-width="1.4"/>
<polyline points="307.5,522.2 311.8,526 307.5,529.8" fill="none" stroke="#333" stroke-width="1.4"/>
<text x="250.2" y="511.6" font-size="8.5">Incubation &amp;</text>
<text x="250.2" y="522.4" font-size="8.5">Centrifugation</text>
<path d="M323.30,492.90 L317.20,484.90 M323.30,492.90 L328.10,488.90" fill="none" stroke="#b4b4ff" stroke-width="2.2"/>
<path d="M323.30,492.90 L323.30,500.00" fill="none" stroke="#b4b4ff" stroke-width="1.8"/>
<circle cx="323.30" cy="504.20" r="4.2" fill="#9a9a9a"/>
<circle cx="317.20" cy="484.90" r="4.3" fill="#9c9cff"/>
<text x="317.2" y="487.2" font-size="6.8" text-anchor="middle" fill="#222244" style="stroke:#222244">p</text>
<path d="M337.30,492.90 L343.20,484.90 M337.30,492.90 L332.50,488.90" fill="none" stroke="#b4b4ff" stroke-width="2.2"/>
<path d="M337.30,492.90 L337.30,500.00" fill="none" stroke="#b4b4ff" stroke-width="1.8"/>
<circle cx="337.30" cy="504.20" r="4.2" fill="#9a9a9a"/>
<circle cx="343.20" cy="484.90" r="4.3" fill="#9c9cff"/>
<text x="343.2" y="487.2" font-size="6.8" text-anchor="middle" fill="#222244" style="stroke:#222244">p</text>
<path d="M352.10,492.90 L358.20,484.90 M352.10,492.90 L347.30,488.90" fill="none" stroke="#b4b4ff" stroke-width="2.2"/>
<path d="M352.10,492.90 L352.10,500.00" fill="none" stroke="#b4b4ff" stroke-width="1.8"/>
<circle cx="352.10" cy="504.20" r="4.2" fill="#9a9a9a"/>
<circle cx="358.20" cy="484.90" r="4.3" fill="#9c9cff"/>
<text x="358.2" y="487.2" font-size="6.8" text-anchor="middle" fill="#222244" style="stroke:#222244">p</text>
<text x="369.4" y="496.2" font-size="7.5" text-anchor="middle">+</text>
<circle cx="390.50" cy="478.90" r="4.2" fill="#333333"/>
<circle cx="400.80" cy="482.40" r="4.2" fill="#333333"/>
<circle cx="381.10" cy="499.00" r="4.2" fill="#333333"/>
<circle cx="391.10" cy="500.90" r="4.2" fill="#333333"/>
<circle cx="400.60" cy="503.10" r="4.2" fill="#333333"/>
<circle cx="407.80" cy="497.40" r="4.2" fill="#333333"/>
<rect x="392.40" y="469.80" width="8.40" height="4.00" fill="#999999" stroke="none" stroke-width="1"/>
<rect x="377.10" y="489.10" width="8.20" height="4.30" fill="#999999" stroke="none" stroke-width="1"/>
<rect x="397.20" y="492.00" width="8.20" height="3.80" fill="#999999" stroke="none" stroke-width="1"/>
<rect x="388.10" y="506.70" width="8.60" height="4.00" fill="#999999" stroke="none" stroke-width="1"/>
<path d="M383.30,484.10 L382.70,478.50 M383.30,484.10 L377.10,485.80" fill="none" stroke="#b4b4ff" stroke-width="2.2"/>
<path d="M383.30,484.10 L388.50,488.20" fill="none" stroke="#b4b4ff" stroke-width="1.8"/>
<text x="337.3" y="527.8" font-size="8" text-anchor="middle">or</text>
<path d="M322.80,552.90 L318.00,548.90 M322.80,552.90 L327.60,548.90" fill="none" stroke="#c4c4c4" stroke-width="2.2"/>
<path d="M322.80,552.90 L322.80,560.00" fill="none" stroke="#c4c4c4" stroke-width="1.8"/>
<circle cx="322.80" cy="564.20" r="4.2" fill="#9a9a9a"/>
<path d="M337.30,552.90 L332.50,548.90 M337.30,552.90 L342.10,548.90" fill="none" stroke="#c4c4c4" stroke-width="2.2"/>
<path d="M337.30,552.90 L337.30,560.00" fill="none" stroke="#c4c4c4" stroke-width="1.8"/>
<circle cx="337.30" cy="564.20" r="4.2" fill="#9a9a9a"/>
<path d="M352.10,552.90 L347.30,548.90 M352.10,552.90 L356.90,548.90" fill="none" stroke="#c4c4c4" stroke-width="2.2"/>
<path d="M352.10,552.90 L352.10,560.00" fill="none" stroke="#c4c4c4" stroke-width="1.8"/>
<circle cx="352.10" cy="564.20" r="4.2" fill="#9a9a9a"/>
<text x="369.1" y="555.7" font-size="7.5" text-anchor="middle">+</text>
<circle cx="391.60" cy="540.60" r="4.2" fill="#333333"/>
<circle cx="401.90" cy="544.10" r="4.2" fill="#333333"/>
<circle cx="381.90" cy="560.60" r="4.2" fill="#333333"/>
<circle cx="391.90" cy="562.60" r="4.2" fill="#333333"/>
<circle cx="401.50" cy="564.60" r="4.2" fill="#333333"/>
<circle cx="409.20" cy="559.30" r="4.2" fill="#333333"/>
<circle cx="381.90" cy="542.80" r="4.3" fill="#9c9cff"/>
<text x="381.9" y="545.0999999999999" font-size="6.8" text-anchor="middle" fill="#222244" style="stroke:#222244">p</text>
<circle cx="393.20" cy="551.80" r="4.3" fill="#9c9cff"/>
<text x="393.2" y="554.0999999999999" font-size="6.8" text-anchor="middle" fill="#222244" style="stroke:#222244">p</text>
<circle cx="408.80" cy="549.40" r="4.3" fill="#9c9cff"/>
<text x="408.8" y="551.6999999999999" font-size="6.8" text-anchor="middle" fill="#222244" style="stroke:#222244">p</text>
<rect x="393.50" y="531.20" width="8.40" height="4.40" fill="#999999" stroke="none" stroke-width="1"/>
<rect x="378.30" y="548.60" width="8.00" height="4.00" fill="#999999" stroke="none" stroke-width="1"/>
<rect x="398.00" y="553.40" width="8.00" height="4.00" fill="#999999" stroke="none" stroke-width="1"/>
<rect x="389.20" y="568.20" width="8.30" height="4.30" fill="#999999" stroke="none" stroke-width="1"/>
<text x="338.1" y="587.2" font-size="8.3" text-anchor="middle">IP</text>
<text x="393.5" y="587.2" font-size="8.3" text-anchor="middle">FT</text>
<rect x="199.80" y="595.20" width="213.50" height="45.80" fill="none" stroke="#333" stroke-width="1" stroke-dasharray="4,3"/>
<circle cx="207.40" cy="605.20" r="4.3" fill="#9c9cff"/>
<text x="207.4" y="607.5" font-size="6.8" text-anchor="middle" fill="#222244" style="stroke:#222244">p</text>
<text x="219.1" y="607.7" font-size="7.15">pSer775-PFKL</text>
<circle cx="207.40" cy="618.80" r="4.3" fill="#333333"/>
<text x="219.1" y="621.3" font-size="7.15">PFKL</text>
<rect x="203.00" y="630.50" width="8.00" height="4.10" fill="#999999" stroke="none" stroke-width="1"/>
<text x="219.1" y="635.0" font-size="7.15">other proteins</text>
<circle cx="295.90" cy="606.00" r="4.2" fill="#9a9a9a"/>
<text x="309.9" y="609.3" font-size="7.2">Protein G beads</text>
<path d="M297.80,620.40 L302.30,615.60 M297.80,620.40 L302.30,625.20" fill="none" stroke="#b4b4ff" stroke-width="2.2"/>
<path d="M297.80,620.40 L291.00,620.40" fill="none" stroke="#b4b4ff" stroke-width="1.8"/>
<text x="309.9" y="622.7" font-size="7.05">pSer775-PFKL antibody</text>
<path d="M297.80,634.10 L302.30,629.30 M297.80,634.10 L302.30,638.90" fill="none" stroke="#c4c4c4" stroke-width="2.2"/>
<path d="M297.80,634.10 L291.00,634.10" fill="none" stroke="#c4c4c4" stroke-width="1.8"/>
<text x="309.9" y="636.2" font-size="7.05">isotype control</text>
<text x="0" y="0" font-size="10" transform="translate(536.0,500.0) rotate(-44)">pSer775-PFKL</text>
<text x="0" y="0" font-size="9.8" transform="translate(591.2,499.0) rotate(-44)">isotype contorl</text>
<line x1="520.40" y1="503.70" x2="560.90" y2="503.70" stroke="#000" stroke-width="1.3"/>
<line x1="567.40" y1="503.70" x2="613.40" y2="503.70" stroke="#000" stroke-width="1.3"/>
<text x="507.8" y="518.2" font-size="10" text-anchor="middle">Input</text>
<text x="530.4" y="518.2" font-size="10" text-anchor="middle">IP</text>
<text x="552.8" y="518.2" font-size="10" text-anchor="middle">FT</text>
<text x="576.3" y="518.2" font-size="10" text-anchor="middle">IP</text>
<text x="598.4" y="518.2" font-size="10" text-anchor="middle">FT</text>
<rect x="495.20" y="522.40" width="118.70" height="17.00" fill="#f7f7f7" stroke="#222" stroke-width="1.1"/>
<rect x="495.20" y="541.20" width="118.70" height="17.00" fill="#fbfbfb" stroke="#222" stroke-width="1.1"/>
<path d="M497.8,530.1 Q507.4,532.08 517.0,530.1" fill="none" stroke="#4a4a4a" stroke-width="2.0" stroke-linecap="round" filter="url(#bl3)"/>
<path d="M522.4,529.5 Q528.4,528.84 534.4,529.5" fill="none" stroke="#000" stroke-width="2.8" stroke-linecap="round" filter="url(#bl3)"/>
<path d="M539.6,530.1 Q550.3,532.08 561.0,530.1" fill="none" stroke="#555" stroke-width="2.0" stroke-linecap="round" filter="url(#bl3)"/>
<path d="M584.6,530.1 Q596.9000000000001,532.08 609.2,530.1" fill="none" stroke="#111" stroke-width="3.0" stroke-linecap="round" filter="url(#bl3)"/>
<path d="M522.4,550.4000000000001 Q528.4,549.96 534.4,550.4000000000001" fill="none" stroke="#6a6a6a" stroke-width="2.4" stroke-linecap="round" filter="url(#bl3)"/>
<path d="M498,551.0 Q507.5,552.1 517,551.0" fill="none" stroke="#e2e2e2" stroke-width="1.6" stroke-linecap="round" filter="url(#bl3)"/>
<path d="M539.5,551.0 Q550.25,552.1 561,551.0" fill="none" stroke="#e2e2e2" stroke-width="1.6" stroke-linecap="round" filter="url(#bl3)"/>
<path d="M585,551.0 Q597.0,552.1 609,551.0" fill="none" stroke="#eeeeee" stroke-width="1.6" stroke-linecap="round" filter="url(#bl3)"/>
<text x="475.5" y="525.7" font-size="7">kDa</text>
<text x="480.1" y="539.5" font-size="7.3">70</text>
<line x1="489.30" y1="537.20" x2="495.20" y2="537.20" stroke="#222" stroke-width="1.2"/>
<text x="480.1" y="559.8" font-size="7.3">70</text>
<line x1="489.30" y1="557.40" x2="495.20" y2="557.40" stroke="#222" stroke-width="1.2"/>
<text x="617.6" y="537.3" font-size="8.6">PFKL</text>
<text x="617.6" y="554.4" font-size="8.6">P-PFKL S775</text>
<line x1="507.20" y1="574.70" x2="507.20" y2="605.30" stroke="#000" stroke-width="1.3"/>
<line x1="506.60" y1="604.70" x2="630.60" y2="604.70" stroke="#000" stroke-width="1.3"/>
<line x1="507.20" y1="604.70" x2="507.20" y2="608.90" stroke="#000" stroke-width="1.3"/>
<text x="507.2" y="621.5" font-size="8.8" text-anchor="middle">0</text>
<line x1="531.78" y1="604.70" x2="531.78" y2="608.90" stroke="#000" stroke-width="1.3"/>
<text x="531.78" y="621.5" font-size="8.8" text-anchor="middle">10</text>
<line x1="556.36" y1="604.70" x2="556.36" y2="608.90" stroke="#000" stroke-width="1.3"/>
<text x="556.36" y="621.5" font-size="8.8" text-anchor="middle">20</text>
<line x1="580.94" y1="604.70" x2="580.94" y2="608.90" stroke="#000" stroke-width="1.3"/>
<text x="580.94" y="621.5" font-size="8.8" text-anchor="middle">30</text>
<line x1="605.52" y1="604.70" x2="605.52" y2="608.90" stroke="#000" stroke-width="1.3"/>
<text x="605.52" y="621.5" font-size="8.8" text-anchor="middle">40</text>
<line x1="630.10" y1="604.70" x2="630.10" y2="608.90" stroke="#000" stroke-width="1.3"/>
<text x="630.1" y="621.5" font-size="8.8" text-anchor="middle">50</text>
<text x="652.4" y="624.9" font-size="9" text-anchor="middle">(%)</text>
<text x="568.2" y="637.8" font-size="10" text-anchor="middle">Phosphorylation Ratio</text>
<rect x="507.20" y="582.50" width="73.25" height="14.40" fill="#7b95e4" stroke="#1f44d8" stroke-width="1.2"/>
<line x1="567.67" y1="589.70" x2="595.44" y2="589.70" stroke="#1f44d8" stroke-width="1.2"/>
<line x1="595.44" y1="586.30" x2="595.44" y2="593.10" stroke="#1f44d8" stroke-width="1.2"/>
<line x1="567.67" y1="586.30" x2="567.67" y2="593.10" stroke="#1f44d8" stroke-width="1.2"/>
<circle cx="560.78" cy="589.90" r="2.1" fill="#1f44d8"/>
<circle cx="574.55" cy="589.90" r="2.1" fill="#1f44d8"/>
<circle cx="608.47" cy="589.90" r="2.1" fill="#1f44d8"/>
<text x="0" y="0" font-size="10.2" transform="translate(496.6,610.3) rotate(-90)">PFKL<tspan font-size="5.8" dy="-4.4">WT</tspan></text>
</svg>
</body></html>
